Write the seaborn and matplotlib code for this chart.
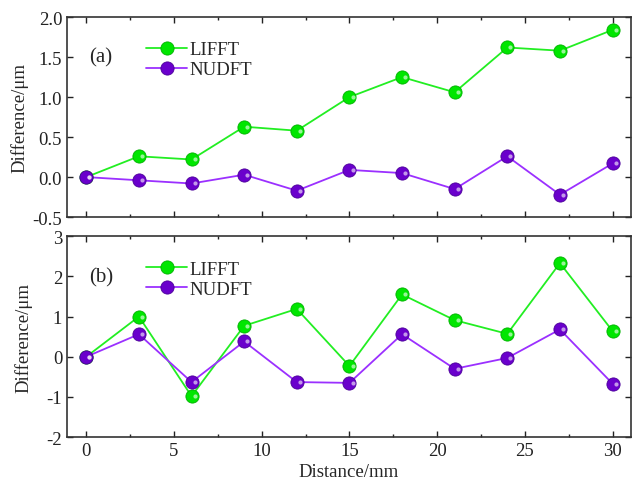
import matplotlib
matplotlib.use("Agg")
import matplotlib.pyplot as plt
import seaborn as sns
import pandas as pd
from matplotlib.ticker import MultipleLocator

distance = [0, 3, 6, 9, 12, 15, 18, 21, 24, 27, 30]
a_lifft = [0.0, 0.26, 0.22, 0.63, 0.58, 1.0, 1.25, 1.06, 1.62, 1.58, 1.84]
a_nudft = [0.0, -0.04, -0.08, 0.03, -0.17, 0.09, 0.05, -0.15, 0.26, -0.22, 0.17]
b_lifft = [0.0, 1.0, -0.98, 0.77, 1.19, -0.23, 1.55, 0.91, 0.57, 2.33, 0.64]
b_nudft = [0.0, 0.56, -0.63, 0.38, -0.63, -0.65, 0.56, -0.30, -0.03, 0.68, -0.67]
series_names = ["LIFFT", "NUDFT"]

sns.set_style("ticks")
plt.rcParams['font.family'] = ['Liberation Serif', 'DejaVu Serif']
plt.rcParams['mathtext.fontset'] = 'stix'

line_colors = {"LIFFT": "#22EE22", "NUDFT": "#9B30FF"}
face_colors = {"LIFFT": "#00E600", "NUDFT": "#6A00CC"}
edge_colors = {"LIFFT": "#00B000", "NUDFT": "#4B0099"}

fig = plt.figure(figsize=(6.38, 4.89), dpi=100)
ax1 = fig.add_axes([0.105, 0.554, 0.884, 0.409])
ax2 = fig.add_axes([0.105, 0.104, 0.884, 0.411])


def draw(ax, lifft, nudft, ylim, ymajor, label, yfmt, ylabel_x):
    df = pd.DataFrame({
        "Distance": distance * 2,
        "Difference": lifft + nudft,
        "Method": [series_names[0]] * len(distance) + [series_names[1]] * len(distance),
    })
    sns.lineplot(data=df, x="Distance", y="Difference", hue="Method",
                 palette=line_colors, ax=ax, linewidth=1.3, legend=False)
    for name in series_names:
        sub = df[df["Method"] == name]
        ax.plot(sub["Distance"], sub["Difference"], linestyle="none", marker="o",
                markersize=9.5, markerfacecolor=face_colors[name],
                markeredgecolor=edge_colors[name], markeredgewidth=0.6, zorder=4)
        ax.plot(sub["Distance"] + 0.18, sub["Difference"], linestyle="none", marker="o",
                markersize=3, markerfacecolor="white", markeredgewidth=0, alpha=0.6,
                zorder=5)
    ax.set_xlim(-1.1, 31.05)
    ax.set_ylim(*ylim)
    ax.xaxis.set_major_locator(MultipleLocator(5))
    ax.xaxis.set_minor_locator(MultipleLocator(2.5))
    ax.yaxis.set_major_locator(MultipleLocator(ymajor))
    ax.yaxis.set_major_formatter(yfmt)
    ax.tick_params(which="both", direction="in", top=True, right=True,
                   labelsize=13.5, width=1, colors="#222222")
    ax.tick_params(which="major", length=4)
    ax.tick_params(which="minor", length=2.5)
    for s in ax.spines.values():
        s.set_linewidth(1.2)
        s.set_color("#333333")
    ax.set_ylabel("Difference/μm", fontsize=13.5)
    ax.yaxis.set_label_coords(ylabel_x, 0.5)
    ax.text(0.04, 0.80, label, transform=ax.transAxes, fontsize=15,
            va="center", ha="left")
    handles = [plt.Line2D([], [], color=line_colors[n], linewidth=1.3, marker="o",
                          markersize=9.5, markerfacecolor=face_colors[n],
                          markeredgecolor=edge_colors[n], markeredgewidth=0.6)
               for n in series_names]
    ax.legend(handles, series_names, loc="upper left", bbox_to_anchor=(0.12, 0.935),
              frameon=False, fontsize=13.5, handlelength=2.2, handletextpad=0.1,
              labelspacing=0.15, borderaxespad=0.2)


draw(ax1, a_lifft, a_nudft, (-0.5, 2.0), 0.5, "(a)",
     matplotlib.ticker.FormatStrFormatter("%.1f"), -0.069)
draw(ax2, b_lifft, b_nudft, (-2, 3), 1, "(b)",
     matplotlib.ticker.FuncFormatter(lambda v, p: f"{v:.0f}"), -0.062)

ax1.tick_params(labelbottom=False)
ax1.set_xlabel("")
ax2.set_xlabel("Distance/mm", fontsize=13.5, labelpad=3)

fig.savefig("out.png", dpi=100)
